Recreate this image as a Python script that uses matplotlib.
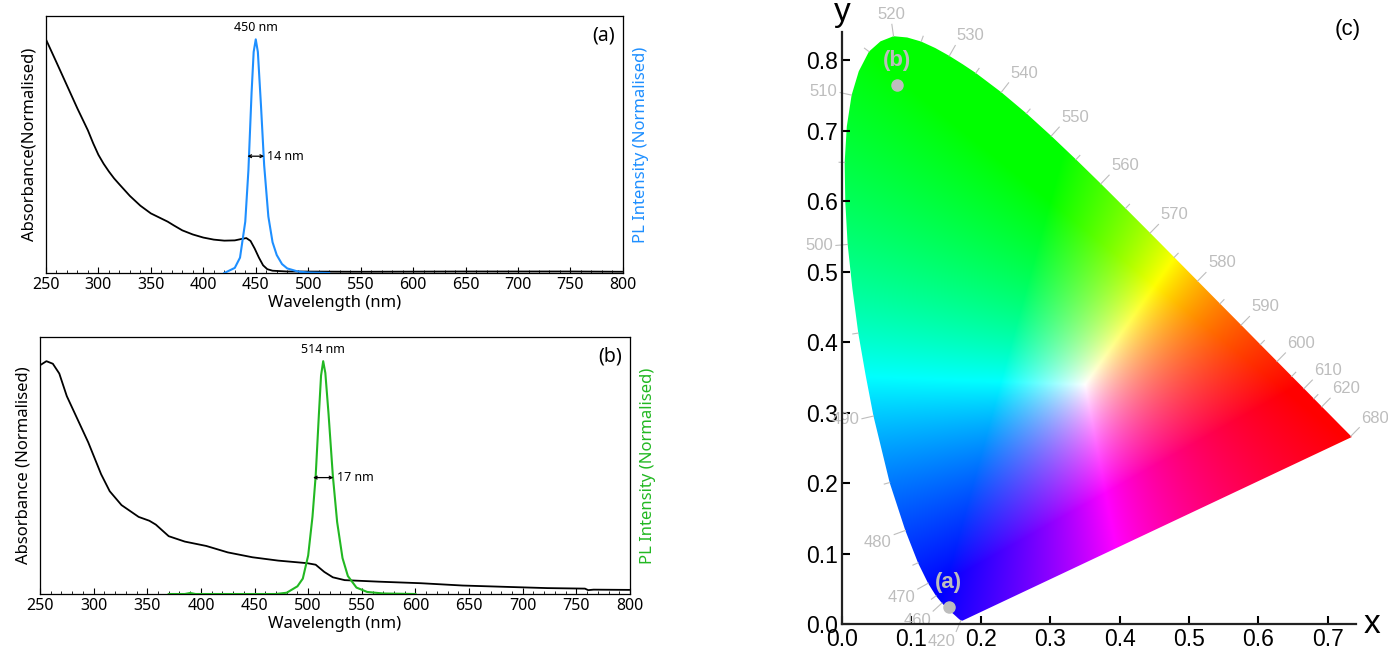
import numpy as np
import matplotlib.pyplot as plt
from matplotlib.patches import Polygon
from matplotlib.ticker import MultipleLocator

# ---- panel (a): absorbance and PL, blue emitter
abs_a_wl = [250, 260, 270, 280, 290, 295, 300, 305, 310, 315, 320, 330, 340,
            350, 360, 366, 372, 380, 390, 400, 410, 420, 430, 437, 441, 445,
            449, 453, 457, 461, 466, 480, 550, 650, 750, 800]
abs_a = [0.909, 0.82, 0.73, 0.64, 0.555, 0.505, 0.46, 0.425, 0.395, 0.368,
         0.345, 0.30, 0.262, 0.232, 0.212, 0.200, 0.185, 0.166, 0.150, 0.138,
         0.130, 0.126, 0.127, 0.133, 0.136, 0.125, 0.095, 0.060, 0.030, 0.015,
         0.009, 0.006, 0.005, 0.006, 0.006, 0.005]
pl_a_wl = [420, 430, 435, 440, 443, 446, 448, 450, 452, 455, 458, 462, 466,
           470, 475, 480, 490, 500, 520]
pl_a = [0.0, 0.02, 0.06, 0.2, 0.4, 0.7, 0.86, 0.909, 0.86, 0.65, 0.42, 0.22,
        0.12, 0.07, 0.035, 0.018, 0.006, 0.002, 0.0]

# ---- panel (b): absorbance and PL, green emitter
abs_b_wl = [250, 256, 262, 268, 275, 285, 295, 307, 315, 326, 342, 352, 358,
            370, 385, 405, 425, 448, 472, 499, 507, 515, 523, 534, 566, 605,
            644, 683, 723, 758, 761, 766, 800]
abs_b = [0.89, 0.906, 0.896, 0.858, 0.77, 0.68, 0.59, 0.466, 0.40, 0.346,
         0.30, 0.285, 0.27, 0.225, 0.204, 0.187, 0.162, 0.143, 0.13, 0.12,
         0.114, 0.086, 0.065, 0.054, 0.048, 0.042, 0.033, 0.028, 0.023, 0.021,
         0.015, 0.017, 0.016]
pl_b_wl = [370, 385, 390, 395, 420, 470, 480, 490, 495, 500, 504, 507, 510,
           512, 514, 516, 519, 523, 527, 532, 537, 545, 555, 570, 600]
pl_b = [0.0, 0.0, 0.004, 0.0, 0.0, 0.0, 0.005, 0.03, 0.06, 0.15, 0.3, 0.46,
        0.7, 0.85, 0.906, 0.86, 0.7, 0.46, 0.28, 0.14, 0.07, 0.025, 0.008,
        0.002, 0.0]

# ---- panel (c): CIE 1931 spectral locus and the two emitters
locus_nm = [380, 390, 400, 410, 420, 425, 430, 435, 440, 445, 450, 455, 460,
            465, 470, 475, 480, 485, 490, 492.5, 495, 497.5, 500, 502.5, 505,
            507.5, 510, 512.5, 515, 517.5, 520, 522.5, 525, 527.5, 530, 532.5,
            535, 540, 545, 550, 555, 560, 565, 570, 575, 580, 585, 590, 595,
            600, 605, 610, 615, 620, 625, 630, 640, 650, 660, 670, 680, 700]
locus_x = [0.1741, 0.1738, 0.1733, 0.1726, 0.1714, 0.1703, 0.1689, 0.1669,
           0.1644, 0.1611, 0.1566, 0.1510, 0.1440, 0.1355, 0.1241, 0.1096,
           0.0913, 0.0687, 0.0454, 0.0340, 0.0235, 0.0150, 0.0082, 0.0048,
           0.0039, 0.0070, 0.0139, 0.0242, 0.0389, 0.0555, 0.0743, 0.0940,
           0.1142, 0.1345, 0.1547, 0.1740, 0.1929, 0.2296, 0.2658, 0.3016,
           0.3373, 0.3731, 0.4087, 0.4441, 0.4788, 0.5125, 0.5448, 0.5752,
           0.6029, 0.6270, 0.6482, 0.6658, 0.6801, 0.6915, 0.7006, 0.7079,
           0.7190, 0.7260, 0.7300, 0.7320, 0.7334, 0.7347]
locus_y = [0.0050, 0.0049, 0.0048, 0.0048, 0.0051, 0.0058, 0.0069, 0.0086,
           0.0109, 0.0138, 0.0177, 0.0227, 0.0297, 0.0399, 0.0578, 0.0868,
           0.1327, 0.2007, 0.2950, 0.3535, 0.4127, 0.4760, 0.5384, 0.5985,
           0.6548, 0.7060, 0.7502, 0.7840, 0.8120, 0.8265, 0.8338, 0.8320,
           0.8262, 0.8170, 0.8059, 0.7940, 0.7816, 0.7543, 0.7243, 0.6923,
           0.6589, 0.6245, 0.5896, 0.5547, 0.5202, 0.4866, 0.4544, 0.4242,
           0.3965, 0.3725, 0.3514, 0.3340, 0.3197, 0.3083, 0.2993, 0.2920,
           0.2809, 0.2740, 0.2700, 0.2680, 0.2666, 0.2653]
label_nm = [420, 460, 470, 480, 490, 500, 510, 520, 530, 540, 550, 560, 570,
            580, 590, 600, 610, 620, 680]
sample_names = ["(a)", "(b)"]
sample_x = [0.154, 0.079]
sample_y = [0.024, 0.765]

BLUE = "#1e8fff"
GREEN = "#22b822"
GREY = "#bdbdbd"

fig = plt.figure(figsize=(13.88, 6.47), dpi=100)
font_ab = "Noto Sans"


def spectrum_panel(rect, wl, ab, pwl, pl, colour, tag, peak, fwhm, absname):
    ax = fig.add_axes(rect)
    ax.plot(wl, ab, color="black", lw=1.3)
    ax.set_xlim(250, 800)
    ax.set_ylim(0, 1)
    ax.set_yticks([])
    ax.xaxis.set_major_locator(MultipleLocator(50))
    ax.xaxis.set_minor_locator(MultipleLocator(10))
    ax.tick_params(axis="x", which="both", direction="in", labelsize=11.5,
                   pad=3)
    ax.tick_params(axis="x", which="major", length=4)
    ax.tick_params(axis="x", which="minor", length=2)
    for lab in ax.get_xticklabels():
        lab.set_fontfamily(font_ab)
    ax.set_xlabel("Wavelength (nm)", fontsize=12, family=font_ab, labelpad=1)
    ax.set_ylabel(absname, fontsize=12, family=font_ab, labelpad=6)
    for s in ax.spines.values():
        s.set_color("#555555")
        s.set_linewidth(0.9)

    ax2 = ax.twinx()
    ax2.plot(pwl, pl, color=colour, lw=1.5)
    ax2.set_ylim(0, 1)
    ax2.set_yticks([])
    ax2.set_ylabel("PL Intensity (Normalised)", color=colour, fontsize=12,
                   family=font_ab, labelpad=7)

    pk = pwl[int(np.argmax(pl))]
    top = max(pl)
    ax2.text(pk, top + 0.045, f"{peak} nm", ha="center", va="center",
             fontsize=9, family=font_ab)
    half = top / 2
    ax2.annotate("", xy=(pk - fwhm / 2 - 1, half), xytext=(pk + fwhm / 2 + 1, half),
                 arrowprops=dict(arrowstyle="<->", lw=0.9, color="black",
                                 shrinkA=0, shrinkB=0, mutation_scale=5))
    ax2.text(pk + fwhm / 2 + 4, half, f"{fwhm} nm", ha="left", va="center",
             fontsize=9, family=font_ab)
    ax2.text(0.966, 0.925, tag, transform=ax.transAxes, ha="center",
             va="center", fontsize=14, family=font_ab)
    return ax


spectrum_panel([0.0331, 0.578, 0.4157, 0.3973], abs_a_wl, abs_a, pl_a_wl,
               pl_a, BLUE, "(a)", 450, 14, "Absorbance(Normalised)")
spectrum_panel([0.0288, 0.0819, 0.4251, 0.3972], abs_b_wl, abs_b, pl_b_wl,
               pl_b, GREEN, "(b)", 514, 17, "Absorbance (Normalised)")

# ---- CIE diagram
axc = fig.add_axes([0.6066, 0.0355, 0.370, 0.9153])
xmax, ymax = 0.74, 0.84
axc.set_xlim(0, xmax)
axc.set_ylim(0, ymax)

gx, gy = np.meshgrid(np.linspace(0, xmax, 740), np.linspace(0.002, ymax, 840))
XYZ = np.stack([gx / gy, np.ones_like(gx), (1 - gx - gy) / gy], axis=-1)
M = np.array([[3.2406, -1.5372, -0.4986],
              [-0.9689, 1.8758, 0.0415],
              [0.0557, -0.2040, 1.0570]])
rgb = XYZ @ M.T
wx, wy = 0.35, 0.34
white = M @ np.array([wx / wy, 1.0, (1 - wx - wy) / wy])
rgb = np.clip(rgb, 0, None) / white
rgb = rgb / rgb.max(axis=-1, keepdims=True)
rgb = np.clip(rgb, 0, 1) ** 0.85

im = axc.imshow(rgb, origin="lower", extent=(0, xmax, 0.002, ymax),
                interpolation="bilinear", aspect="auto", zorder=1)
poly = Polygon(np.column_stack([locus_x, locus_y]), closed=True,
               facecolor="none", edgecolor="none")
axc.add_patch(poly)
im.set_clip_path(poly)

lx = np.array(locus_x)
ly = np.array(locus_y)
tx = np.gradient(lx)
ty = np.gradient(ly)
for nm in sorted(set(list(range(460, 625, 5)) + label_nm)):
    if nm not in locus_nm:
        continue
    i = locus_nm.index(nm)
    nx_, ny_ = ty[i], -tx[i]
    n = np.hypot(nx_, ny_)
    nx_, ny_ = nx_ / n, ny_ / n
    if (lx[i] - 0.33) * nx_ + (ly[i] - 0.33) * ny_ < 0:
        nx_, ny_ = -nx_, -ny_
    ln = 0.017 if nm in label_nm else 0.008
    axc.plot([lx[i], lx[i] + ln * nx_], [ly[i], ly[i] + ln * ny_],
             color=GREY, lw=0.8, zorder=2, clip_on=False)
    if nm in label_nm:
        ha = "left" if nx_ > 0.3 else ("right" if nx_ < -0.3 else "center")
        va = "bottom" if ny_ > 0.3 else ("top" if ny_ < -0.3 else "center")
        axc.text(lx[i] + 0.021 * nx_, ly[i] + 0.021 * ny_, str(nm),
                 color=GREY, fontsize=12, family="Liberation Sans",
                 ha=ha, va=va, zorder=2, clip_on=False)

axc.plot(sample_x, sample_y, "o", color=GREY, ms=8, zorder=4)
for name, sx, sy in zip(sample_names, sample_x, sample_y):
    axc.text(sx, sy + 0.02, name, color=GREY, fontsize=16, fontweight="bold",
             family="Liberation Sans", ha="center", va="bottom", zorder=4)

for side in ["top", "right"]:
    axc.spines[side].set_visible(False)
for side in ["left", "bottom"]:
    axc.spines[side].set_linewidth(1.6)
    axc.spines[side].set_color("#222222")
    axc.spines[side].set_zorder(5)
axc.set_xticks(np.arange(0, 0.75, 0.1))
axc.set_yticks(np.arange(0, 0.85, 0.1))
axc.xaxis.set_major_formatter(plt.FuncFormatter(lambda v, p: f"{v:.1f}"))
axc.yaxis.set_major_formatter(plt.FuncFormatter(lambda v, p: f"{v:.1f}"))
axc.tick_params(direction="in", length=6, width=1.5, labelsize=16.5, pad=3)
for lab in axc.get_xticklabels() + axc.get_yticklabels():
    lab.set_fontfamily("Liberation Sans")
axc.text(0, ymax + 0.005, "y", fontsize=24, family="Liberation Sans",
         ha="center", va="bottom", clip_on=False)
axc.text(xmax + 0.012, 0, "x", fontsize=24, family="Liberation Sans",
         ha="left", va="center", clip_on=False)
axc.text(0.728, 0.843, "(c)", fontsize=16, family="Liberation Sans",
         ha="center", va="center", clip_on=False)

fig.savefig("out.png", dpi=100)
